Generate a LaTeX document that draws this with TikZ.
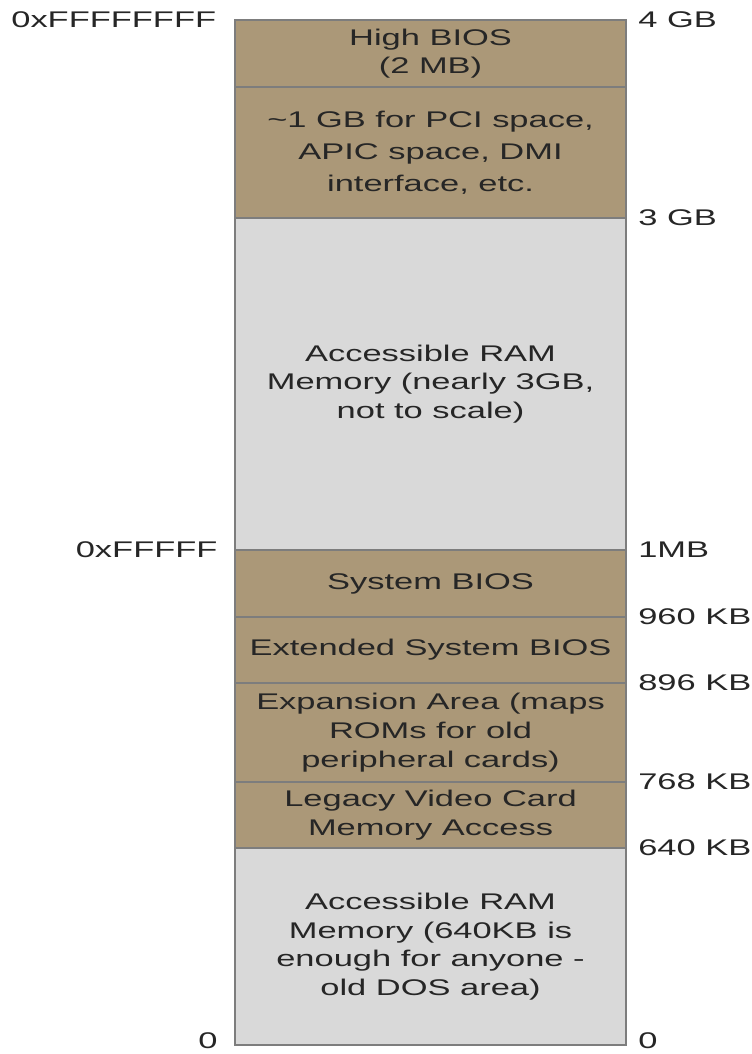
\documentclass[tikz,border=0pt]{standalone}
\usepackage{fontspec}
\setmainfont{Liberation Sans}[FakeStretch=1.52]
\usepackage{xcolor}
\usetikzlibrary{positioning}
\definecolor{memtan}{RGB}{171,152,120}
\definecolor{memgray}{RGB}{217,217,217}
\definecolor{memline}{RGB}{125,125,125}

\begin{document}
\begin{tikzpicture}[font=\fontsize{17}{21.5}\selectfont,
        region/.style={draw=memline,line width=1pt,outer sep=0pt,inner sep=0pt,
                       minimum width=293.25pt,align=center,text=black!85},
        rom/.style={region,fill=memtan},
        ram/.style={region,fill=memgray},
        addrl/.style={inner sep=0pt,anchor=east,text=black!85},
        addrr/.style={inner sep=0pt,anchor=west,text=black!85}]
        \useasboundingbox (0,0) rectangle (564pt,-790.5pt);
        \node[rom,minimum height=50.25pt,anchor=north] (hibios) at (322.9pt,-15pt) {High BIOS\\(2 MB)};
        \node[rom,minimum height=98.25pt,font=\fontsize{17}{24}\selectfont] (pci) [below=0pt of hibios] {\textasciitilde1 GB for PCI space,\\APIC space, DMI\\interface, etc.};
        \node[ram,minimum height=249pt] (hiram) [below=0pt of pci] {Accessible RAM\\Memory (nearly 3GB,\\not to scale)};
        \node[rom,minimum height=50.25pt] (sysbios) [below=0pt of hiram] {System BIOS};
        \node[rom,minimum height=49.5pt] (extbios) [below=0pt of sysbios] {Extended System BIOS};
        \node[rom,minimum height=74.25pt] (expansion) [below=0pt of extbios] {Expansion Area (maps\\ROMs for old\\peripheral cards)};
        \node[rom,minimum height=49.5pt] (video) [below=0pt of expansion] {Legacy Video Card\\Memory Access};
        \node[ram,minimum height=147.75pt] (dosram) [below=0pt of video] {Accessible RAM\\Memory (640KB is\\enough for anyone -\\old DOS area)};
        % addresses on the left
        \node[addrl] (top) [left=14pt of hibios.north west] {0xFFFFFFFF};
        \node[addrl] (onemb) [left=13pt of sysbios.north west] {0xFFFFF};
        \node[addrl,yshift=3.5pt] (zero) [left=13pt of dosram.south west] {0};
        % sizes on the right
        \node[addrr] (s4gb) [right=9pt of hibios.north east] {4 GB};
        \node[addrr] (s3gb) [right=9pt of hiram.north east] {3 GB};
        \node[addrr] (s1mb) [right=9pt of sysbios.north east] {1MB};
        \node[addrr] (s960) [right=9pt of extbios.north east] {960 KB};
        \node[addrr] (s896) [right=9pt of expansion.north east] {896 KB};
        \node[addrr] (s768) [right=9pt of video.north east] {768 KB};
        \node[addrr] (s640) [right=9pt of dosram.north east] {640 KB};
        \node[addrr,yshift=3.5pt] (s0) [right=9pt of dosram.south east] {0};
    \end{tikzpicture}
\end{document}
